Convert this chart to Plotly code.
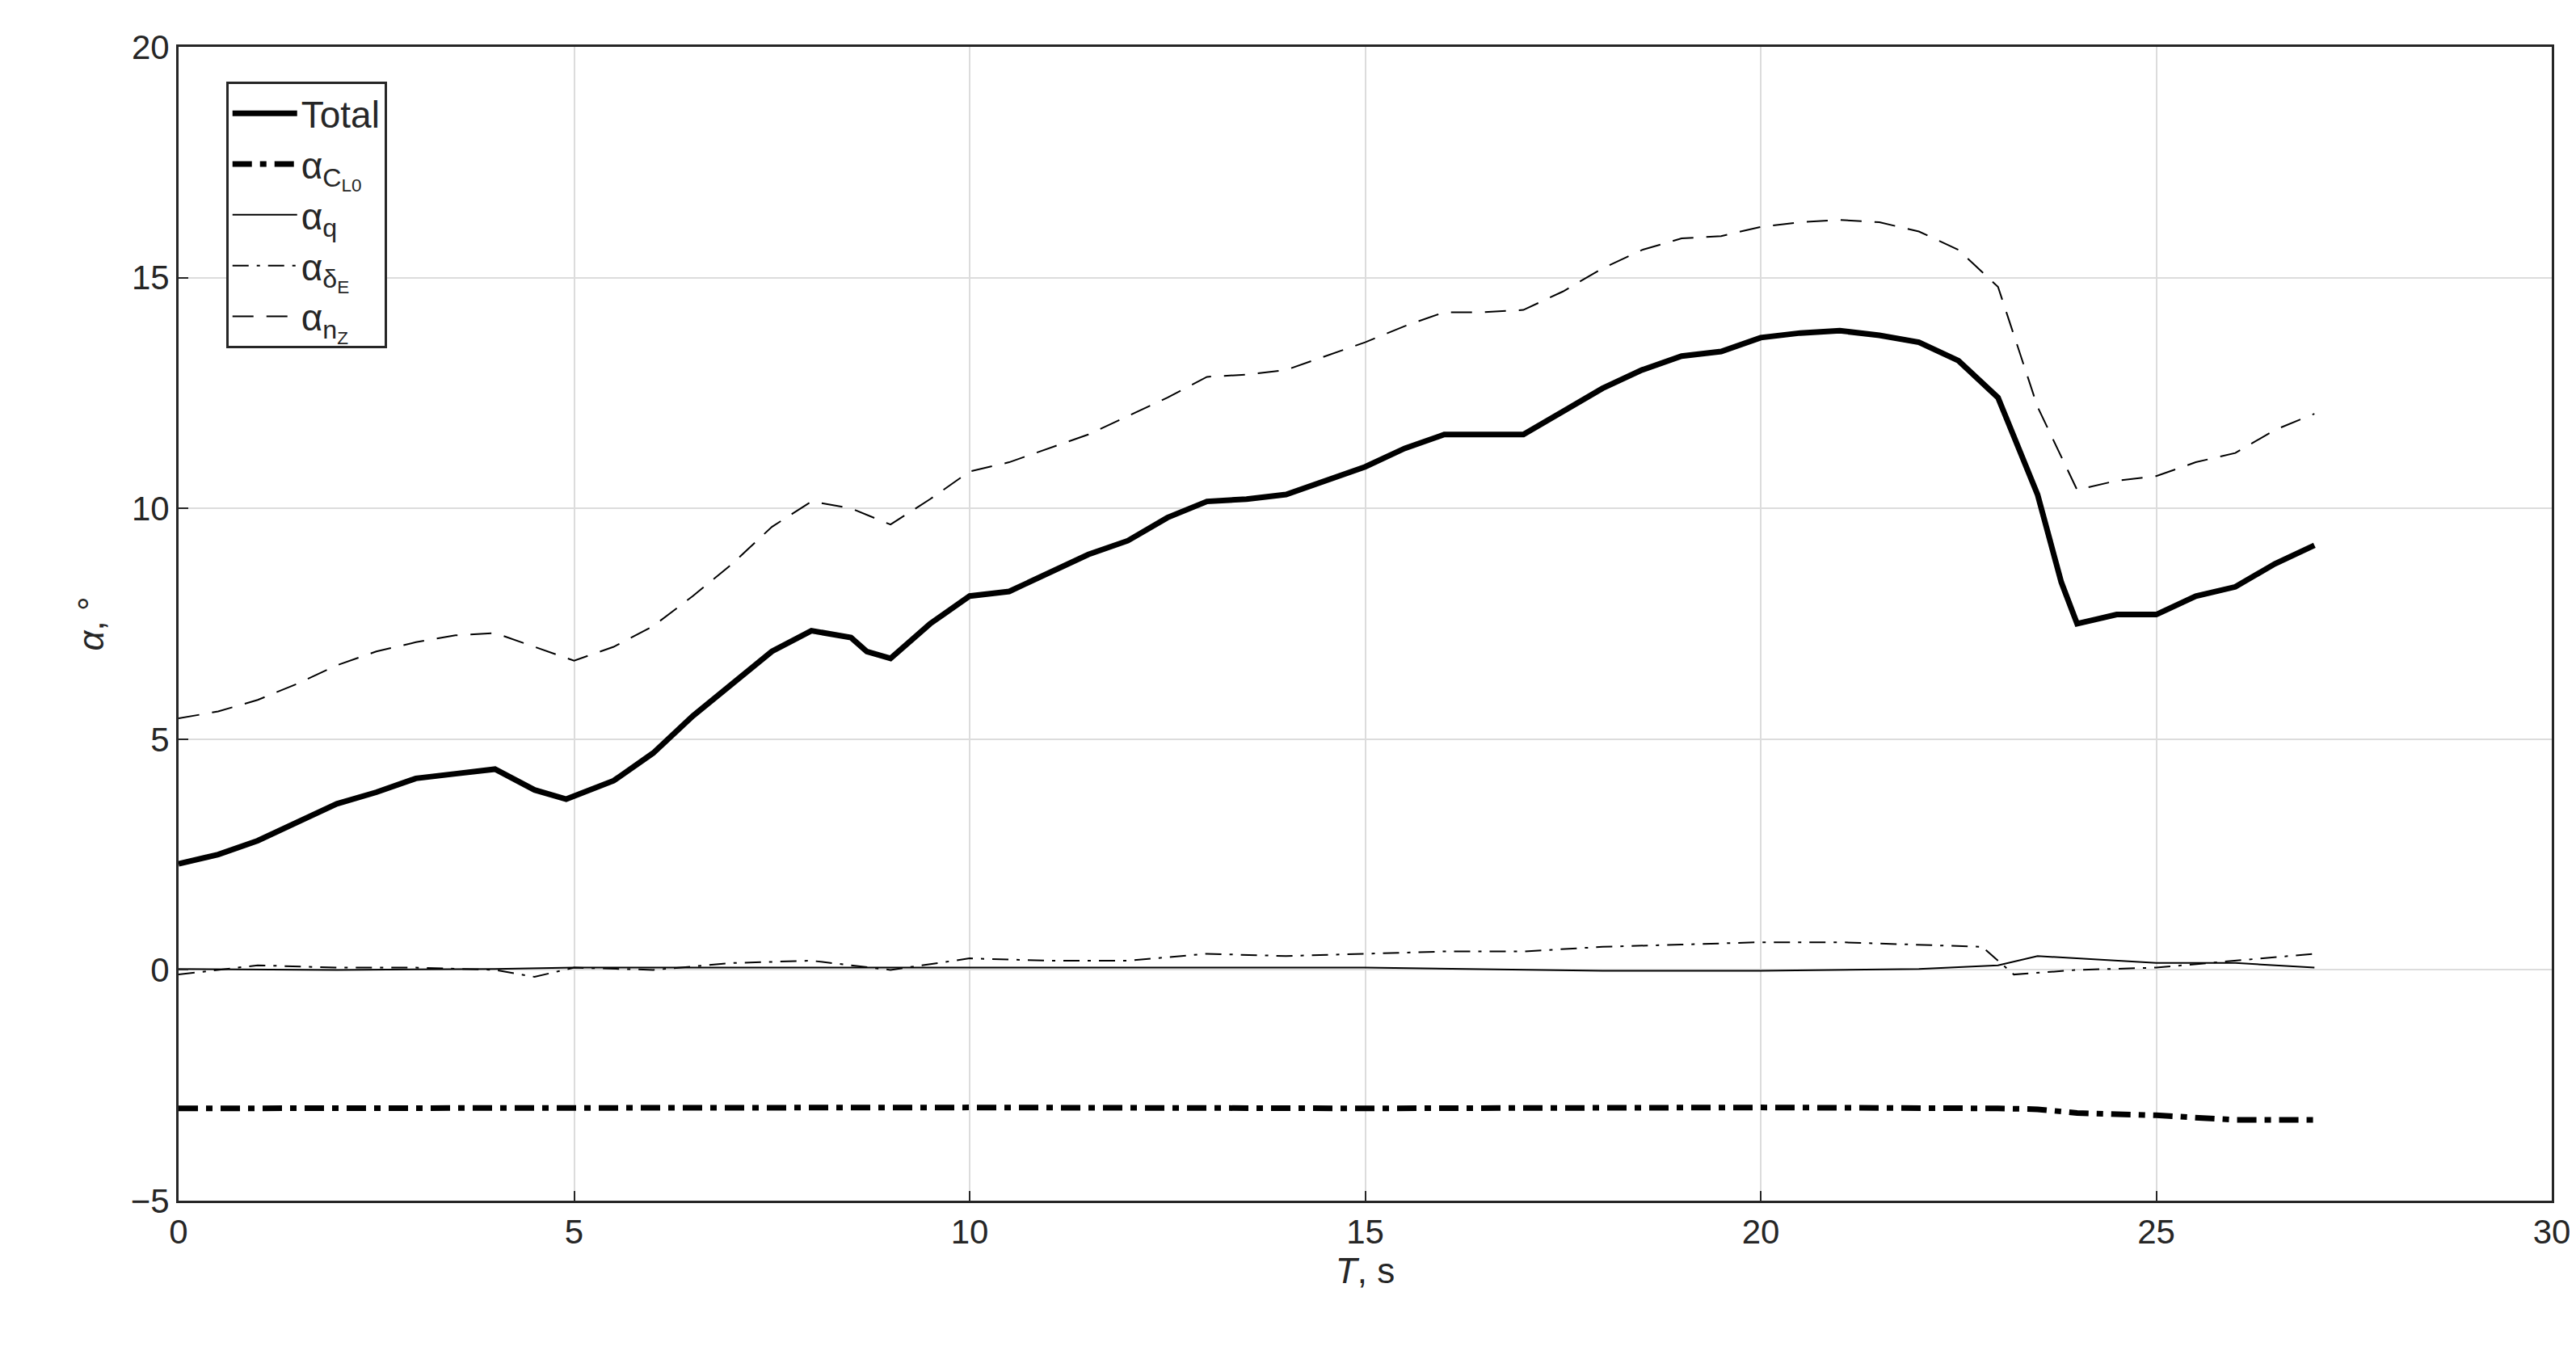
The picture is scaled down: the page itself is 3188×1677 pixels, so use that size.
import plotly.graph_objects as go

t_total = [0, 0.5, 1, 1.5, 2, 2.5, 3, 3.5, 4, 4.5, 4.9, 5.5, 6, 6.5, 7, 7.5, 8, 8.5, 8.7, 9, 9.5,
           10, 10.5, 11, 11.5, 12, 12.5, 13, 13.5, 14, 14.5, 15, 15.5, 16, 16.5, 17, 17.5, 18,
           18.5, 19, 19.5, 20, 20.5, 21, 21.5, 22, 22.5, 23, 23.5, 23.8, 24, 24.5, 25, 25.5,
           26, 26.5, 27]
total = [2.3, 2.5, 2.8, 3.2, 3.6, 3.85, 4.15, 4.25, 4.35, 3.9, 3.7, 4.1, 4.7, 5.5, 6.2, 6.9, 7.35,
         7.2, 6.9, 6.75, 7.5, 8.1, 8.2, 8.6, 9.0, 9.3, 9.8, 10.15, 10.2, 10.3, 10.6, 10.9, 11.3,
         11.6, 11.6, 11.6, 12.1, 12.6, 13.0, 13.3, 13.4, 13.7, 13.8, 13.85, 13.75, 13.6, 13.2,
         12.4, 10.3, 8.4, 7.5, 7.7, 7.7, 8.1, 8.3, 8.8, 9.2]

t_nz = [0, 0.5, 1, 1.5, 2, 2.5, 3, 3.5, 4, 4.5, 5, 5.5, 6, 6.5, 7, 7.5, 8, 8.5, 9, 9.5, 10, 10.5,
        11, 11.5, 12, 12.5, 13, 13.5, 14, 14.5, 15, 15.5, 16, 16.5, 17, 17.5, 18, 18.5, 19, 19.5,
        20, 20.5, 21, 21.5, 22, 22.5, 23, 23.5, 24, 24.5, 25, 25.5, 26, 26.5, 27]
nz = [5.45, 5.6, 5.85, 6.2, 6.6, 6.9, 7.1, 7.25, 7.3, 7.0, 6.7, 7.0, 7.45, 8.1, 8.8, 9.6, 10.15,
      10.0, 9.65, 10.2, 10.8, 11.0, 11.3, 11.6, 12.0, 12.4, 12.85, 12.9, 13.0, 13.3, 13.6, 13.95,
      14.25, 14.25, 14.3, 14.7, 15.2, 15.6, 15.85, 15.9, 16.1, 16.2, 16.25, 16.2, 16.0, 15.6, 14.8,
      12.2, 10.4, 10.6, 10.7, 11.0, 11.2, 11.7, 12.05]

t_cl0 = [0, 5, 10, 15, 20, 23, 23.5, 24, 25, 26, 27]
cl0 = [-3.0, -2.98, -2.98, -3.0, -2.98, -3.0, -3.02, -3.1, -3.15, -3.25, -3.25]

t_de = [0, 1, 2, 3, 4, 4.5, 5, 6, 7, 8, 9, 10, 11, 12, 13, 14, 15, 16, 17, 18, 19, 20, 21, 22,
        22.8, 23.2, 24, 25, 26, 27]
de = [-0.1, 0.1, 0.05, 0.05, 0.0, -0.15, 0.05, 0.0, 0.15, 0.2, 0.0, 0.25, 0.2, 0.2, 0.35, 0.3,
      0.35, 0.4, 0.4, 0.5, 0.55, 0.6, 0.6, 0.55, 0.5, -0.1, 0.0, 0.05, 0.2, 0.35]

t_q = [0, 2, 4, 5, 8, 10, 15, 18, 20, 22, 23, 23.5, 24, 25, 26, 27]
q = [0.02, 0.0, 0.02, 0.05, 0.05, 0.05, 0.05, -0.02, -0.02, 0.02, 0.1, 0.3, 0.25, 0.15, 0.15, 0.05]

fig = go.Figure()
fig.add_trace(go.Scatter(x=t_total, y=total, name="Total", mode="lines",
                         line=dict(color="black", width=7)))
fig.add_trace(go.Scatter(x=t_cl0, y=cl0, name="α<sub>C<sub>L0</sub></sub>", mode="lines",
                         line=dict(color="black", width=7, dash="24px,10px,8px,10px")))
fig.add_trace(go.Scatter(x=t_q, y=q, name="α<sub>q</sub>", mode="lines",
                         line=dict(color="black", width=2)))
fig.add_trace(go.Scatter(x=t_de, y=de, name="α<sub>δ<sub>E</sub></sub>", mode="lines",
                         line=dict(color="black", width=2, dash="20px,10px,4px,10px")))
fig.add_trace(go.Scatter(x=t_nz, y=nz, name="α<sub>n<sub>Z</sub></sub>", mode="lines",
                         line=dict(color="black", width=2, dash="26px,16px")))

axis = dict(showline=True, linecolor="#262626", linewidth=3, mirror=True, ticks="inside",
            ticklen=12, tickwidth=2, tickcolor="#262626", gridcolor="#dcdcdc", gridwidth=2,
            zeroline=False, tickfont=dict(size=42, color="#262626"))
fig.update_xaxes(range=[0, 30], dtick=5, title=dict(text="<i>T</i>, s", font=dict(size=44),
                 standoff=10), **axis)
fig.update_yaxes(range=[-5, 20], dtick=5, title=dict(text="<i>α</i>, °", font=dict(size=44),
                 standoff=20), **axis)
fig.update_layout(
    width=3188, height=1677, plot_bgcolor="white", paper_bgcolor="white",
    font=dict(family="Liberation Sans, Arial", color="#262626"),
    margin=dict(l=213, r=38, t=50, b=199),
    legend=dict(x=0.02, y=0.97, xanchor="left", yanchor="top", bgcolor="white",
                bordercolor="#262626", borderwidth=3, font=dict(size=46),
                tracegroupgap=10, itemwidth=80),
)
fig.write_html("out.html")
